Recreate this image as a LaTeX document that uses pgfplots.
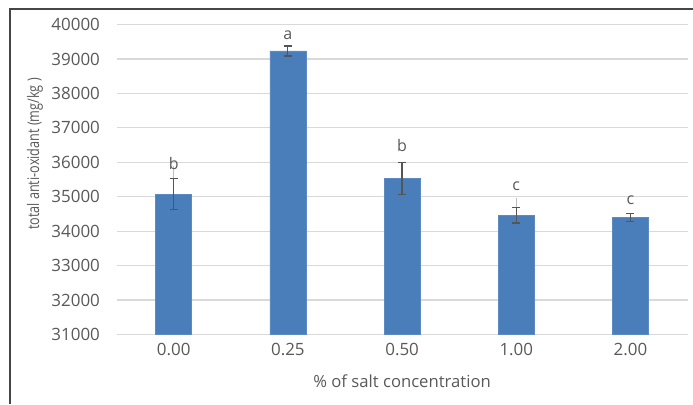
\documentclass[border=0pt]{standalone}
\usepackage{pgfplots}
\pgfplotsset{compat=1.18}
\usepackage{fontspec}
\setmainfont{Open Sans}
\definecolor{barblue}{RGB}{74,126,187}
\definecolor{txtgray}{RGB}{89,89,89}
\definecolor{gridgray}{RGB}{217,217,217}
\definecolor{errgray}{RGB}{85,85,85}
\definecolor{lightline}{RGB}{190,190,190}
\definecolor{framegray}{RGB}{70,70,70}
\begin{document}
\begin{tikzpicture}
\begin{axis}[
  at={(0,0)}, anchor=south west,
  scale only axis,
  width=428.25pt, height=232.5pt,
  xmin=-0.5, xmax=4.5,
  ymin=31000, ymax=40000,
  ytick={31000,32000,...,40000},
  xtick={0,1,2,3,4},
  xticklabels={0.00,0.25,0.50,1.00,2.00},
  ybar, bar width=27pt, bar shift=0pt,
  axis line style={draw=none},
  major tick length=0pt,
  ymajorgrids, major grid style={gridgray, line width=0.9pt},
  /pgf/number format/assume math mode=true,
  /pgf/number format/set thousands separator={},
  /pgf/number format/fixed,
  scaled y ticks=false,
  tick label style={font=\fontsize{12.7}{15}\selectfont, text=txtgray},
  yticklabel style={anchor=east, xshift=-9pt},
  xticklabel style={anchor=north, yshift=-3pt},
  xlabel={\% of salt concentration},
  xlabel style={at={(axis description cs:0.5,0)}, anchor=center, yshift=-34.9pt, font=\fontsize{12.5}{15}\selectfont, text=txtgray},
  ylabel={total anti-oxidant (mg/kg )},
  ylabel style={at={(axis description cs:-0.143,0.582)}, anchor=center, xscale=0.79, font=\fontsize{12}{14}\selectfont, text=txtgray},
  clip=false,
]
% light extension lines
\addplot[draw=none, fill=none, forget plot,
  error bars/.cd, y dir=plus, y explicit, error mark=none,
  error bar style={lightline, line width=0.9pt}]
  coordinates {(0,35535) +- (0,358) (3,34702) +- (0,261)};
% bars
\addplot[fill=barblue, draw=barblue!90!white,
  error bars/.cd, y dir=both, y explicit,
  error bar style={errgray, line width=0.9pt},
  error mark options={rotate=90, mark size=3pt, errgray, line width=0.9pt}]
  coordinates {
    (0,35070) +- (0,450)
    (1,39232) +- (0,145)
    (2,35535) +- (0,470)
    (3,34461) +- (0,222)
    (4,34391) +- (0,120)
  };
\node[font=\fontsize{12}{14}\selectfont, text=txtgray] at (axis cs:0,35980) {b};
\node[font=\fontsize{12}{14}\selectfont, text=txtgray] at (axis cs:1,39697) {a};
\node[font=\fontsize{12}{14}\selectfont, text=txtgray] at (axis cs:2,36482) {b};
\node[font=\fontsize{12}{14}\selectfont, text=txtgray] at (axis cs:3,35312) {c};
\node[font=\fontsize{12}{14}\selectfont, text=txtgray] at (axis cs:4,34906) {c};
\end{axis}
\draw[framegray, line width=0.9pt] (-79.95pt,-52.1pt) -- (-79.95pt,244.1pt) -- (432.3pt,244.1pt);
\pgfresetboundingbox
\path[use as bounding box] (-87.45pt,-52.1pt) rectangle (432.3pt,250.9pt);
\end{tikzpicture}
\end{document}
